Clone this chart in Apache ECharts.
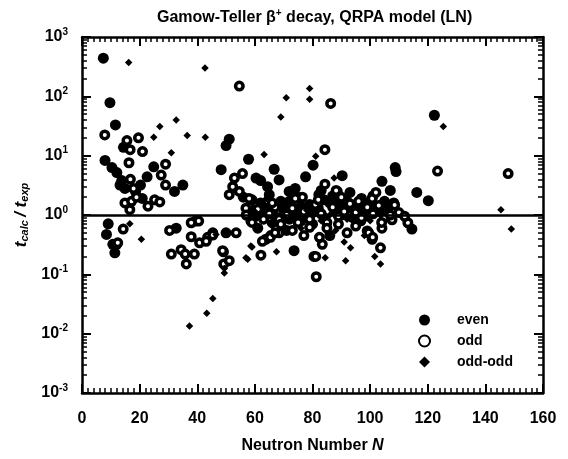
<!DOCTYPE html>
<html>
<head>
<meta charset="utf-8">
<script src="https://cdn.jsdelivr.net/npm/echarts@6/dist/echarts.min.js"></script>
<style>
html, body { margin: 0; padding: 0; background: #fff; }
#chart { width: 568px; height: 459px; }
</style>
</head>
<body>
<div id="chart"></div>
<script>
// each point is [neutron number N, t_calc / t_exp]
let evenPts = [
  [7.4, 440], [9.7, 78], [11.6, 33], [122.3, 48],
  [8, 8.3], [10.4, 6.3], [12.1, 5.2], [13.8, 3.8], [13.2, 3.2], [14.9, 2.8], [14.4, 13.8],
  [24.9, 6.5], [22.6, 4.4], [20.3, 3.2], [18.6, 2.5], [20.9, 1.9], [32.1, 2.5], [35, 3.2],
  [9.1, 0.71], [8.5, 0.47], [10.7, 0.32], [11.4, 0.23], [12, 0.32], [32.7, 0.6], [50, 0.5], [73.6, 0.25],
  [51.1, 19], [50, 14.8], [57.8, 8.7], [80.2, 6.9], [48.3, 5.8], [66.7, 5.9], [60.4, 4.2], [62, 3.8],
  [68.4, 3.9], [64.4, 3.0], [77.6, 4.4], [71.9, 2.5], [74, 2.8], [82.2, 2.2], [70.1, 1.5], [63, 1.2],
  [90.3, 4.6], [108.7, 6.3], [109, 5.4], [104.1, 3.7], [107, 2.6], [116.2, 2.4], [120.2, 1.74], [114.5, 0.58],
  [58, 1.15], [60, 0.95], [62, 1.05], [64, 1.3], [66, 1.1], [68, 0.9], [70, 1.2], [72, 0.85], [74, 1.05],
  [76, 1.4], [78, 0.95], [80, 1.1], [82, 1.3], [84, 0.9], [86, 1.6], [88, 1.2], [90, 1.45], [92, 1.7],
  [94, 1.3], [96, 1.5], [98, 1.2], [100, 1.6], [102, 1.3], [104, 1.1], [106, 1.25], [84, 1.8], [88, 1.9],
  [76, 0.8], [80, 0.7], [66, 0.75], [94, 0.9], [98, 0.95], [90, 1.0], [62, 1.6], [72, 1.7],
  [56, 2.0], [59, 1.8], [65, 2.2], [69, 1.7], [75, 2.0], [79, 1.5], [83, 2.6], [87, 2.1], [93, 2.4],
  [97, 1.9], [101, 2.1], [105, 1.7], [61, 0.6], [71, 0.55], [86, 0.45]
];
let oddPts = [
  [7.9, 22.4], [15.6, 18], [19.6, 20], [16.7, 12.6], [21, 11.7], [16.3, 7.6], [17.9, 2.8], [16.8, 4],
  [29, 7.2], [27.5, 4.7], [29, 3.2], [14.9, 1.6], [17.2, 1.7], [18.9, 2.0], [16.6, 1.23], [22.9, 1.41],
  [25.2, 1.8], [27, 1.66], [54.6, 149], [86.3, 76], [123.4, 5.5], [147.9, 5.0],
  [14.3, 0.58], [12.4, 0.34], [30.4, 0.55], [37.9, 0.43], [31, 0.22], [34.4, 0.26], [35.8, 0.22], [39, 0.22],
  [36.2, 0.15], [40.8, 0.34], [43.6, 0.42], [45.4, 0.5], [39.4, 0.79], [40.5, 0.79], [37.9, 0.74],
  [49.2, 0.15], [49.1, 0.24], [51.1, 0.17], [53.5, 0.5], [45.4, 0.46], [43.1, 0.36], [62.1, 0.21],
  [63.8, 0.39], [65.5, 0.45], [68.4, 0.5], [80.5, 0.2], [81.3, 0.091], [83.4, 0.32], [48.8, 0.25],
  [62.6, 0.36], [65.4, 0.42], [81.1, 0.2], [99, 0.54], [100.7, 0.39], [103.6, 0.28], [104.1, 0.6],
  [107.6, 0.83], [96.8, 0.8], [113.1, 0.74], [82.4, 0.42], [99.5, 0.5], [100.9, 0.42],
  [84.3, 12.6], [55.7, 5], [52.9, 4.2], [52.3, 3.0], [51.1, 2.2], [54.6, 2.5], [76.5, 2.0], [84.3, 3.3],
  [88.6, 2.5], [88.2, 2.6], [108.2, 1.6], [108.5, 1.48], [56.9, 1.3], [60.4, 1.4], [58.6, 0.8],
  [64.9, 0.9], [68.4, 0.85], [100.7, 1.9],
  [57, 1.0], [59, 0.75], [61, 1.25], [63, 0.85], [65, 1.05], [67, 1.35], [69, 0.7], [71, 1.0], [73, 1.3],
  [75, 0.75], [77, 1.15], [79, 0.85], [81, 1.5], [83, 1.05], [85, 0.75], [87, 1.35], [89, 0.95], [91, 1.15],
  [93, 1.55], [95, 1.1], [97, 0.9], [99, 1.35], [101, 1.05], [103, 1.45], [105, 0.9], [107, 1.0], [110, 1.1],
  [112, 0.95], [79, 0.62], [85, 0.6], [73, 0.55], [89, 0.7], [95, 0.65],
  [58, 1.9], [66, 1.6], [74, 1.9], [82, 1.8], [90, 2.0], [96, 1.7], [102, 2.4], [67, 0.5], [77, 0.45],
  [92, 0.5], [104, 0.75]
];
let oddOddPts = [
  [16.2, 372], [42.7, 300], [70.9, 95], [79, 135], [79, 89], [69, 45], [125.4, 31], [27, 31], [32.7, 40],
  [24.9, 20.5], [36.5, 21.8], [42.8, 20.5], [31, 11.2], [63.2, 10.5], [81.1, 9.8], [87.5, 4.2],
  [16.6, 0.71], [20.6, 0.39], [37.3, 0.0135], [43.3, 0.022], [45.4, 0.039], [49.4, 0.105], [49.4, 0.126],
  [59, 0.29], [57.5, 0.18], [67.5, 0.24], [91.5, 0.17], [93.2, 0.28], [91, 0.35], [46.5, 0.47], [56.9, 0.19],
  [58.6, 0.3], [101.6, 0.2], [103.6, 0.15], [145.4, 1.23], [149, 0.58], [84.4, 0.19],
  [60, 1.15], [70, 0.95], [78, 1.2], [86, 1.0], [92, 0.85], [96, 1.25], [100, 0.8], [66, 0.65], [76, 0.6], [88, 0.55],
  [64, 1.9], [83, 0.8], [98, 0.45]
];
let seriesNames = ['even', 'odd', 'odd-odd'];
let xTicks = [0, 20, 40, 60, 80, 100, 120, 140, 160];
let yDecades = [0.001, 0.01, 0.1, 1, 10, 100, 1000];

let font = 'Liberation Sans, Arial, sans-serif';
let supRich = { s: { fontSize: 10, fontWeight: 'bold', fontFamily: font, padding: [0, 0, 10, 0] } };

function axisBase(extra) {
  return Object.assign({
    axisLine: { show: true, onZero: false, lineStyle: { color: '#000', width: 2.5 } },
    axisTick: { show: true, inside: true, length: 9, lineStyle: { color: '#000', width: 2 } },
    minorTick: { show: true, splitNumber: 9, length: 5, lineStyle: { color: '#000', width: 1.5 } },
    splitLine: { show: false },
    minorSplitLine: { show: false }
  }, extra);
}

let xBase = {
  type: 'value', min: xTicks[0], max: xTicks[xTicks.length - 1], interval: 20,
  minorTick: { show: true, splitNumber: 10, length: 5, lineStyle: { color: '#000', width: 1.5 } }
};
let yBase = {
  type: 'log', logBase: 10, min: yDecades[0], max: yDecades[yDecades.length - 1]
};

let option = {
  animation: false,
  backgroundColor: '#fff',
  title: {
    text: 'Gamow-Teller β{s|+} decay, QRPA model (LN)',
    left: 152, top: 3,
    textStyle: { fontFamily: font, fontWeight: 'bold', fontSize: 16, color: '#000', rich: supRich }
  },
  grid: { left: 82, right: 25, top: 37, bottom: 62 },
  legend: {
    orient: 'vertical', left: 413, top: 308, itemGap: 7, itemWidth: 11, itemHeight: 11,
    data: seriesNames,
    textStyle: { fontFamily: font, fontWeight: 'bold', fontSize: 14, color: '#000', padding: [0, 0, 0, 22] }
  },
  xAxis: [
    axisBase(Object.assign({}, xBase, {
      position: 'bottom',
      axisLabel: { margin: 18, color: '#000', fontFamily: font, fontWeight: 'bold', fontSize: 16 },
      name: 'Neutron Number {i|N}', nameLocation: 'middle', nameGap: 45,
      nameTextStyle: { fontFamily: font, fontWeight: 'bold', fontSize: 16, color: '#000',
        rich: { i: { fontFamily: font, fontWeight: 'bold', fontStyle: 'italic', fontSize: 16 } } }
    })),
    axisBase(Object.assign({}, xBase, {
      position: 'top',
      axisLabel: { show: false }
    }))
  ],
  yAxis: [
    axisBase(Object.assign({}, yBase, {
      position: 'left',
      axisLabel: {
        margin: 14, color: '#000', fontFamily: font, fontWeight: 'bold', fontSize: 16,
        formatter: function (v) { return '10{s|' + Math.round(Math.log10(v)) + '}'; },
        rich: supRich
      },
      name: '{i|t}{sub|calc} {i|/ t}{sub|exp}', nameLocation: 'middle', nameGap: 34, nameRotate: 90,
      nameTextStyle: {
        color: '#000',
        rich: {
          i: { fontFamily: font, fontWeight: 'bold', fontStyle: 'italic', fontSize: 17 },
          sub: { fontFamily: font, fontWeight: 'bold', fontStyle: 'italic', fontSize: 11, padding: [8, 0, 0, 0] }
        }
      }
    })),
    axisBase(Object.assign({}, yBase, {
      position: 'right',
      axisLabel: { show: false }
    }))
  ],
  series: [
    {
      name: seriesNames[0], type: 'scatter', data: evenPts,
      symbol: 'circle', symbolSize: 11,
      itemStyle: { color: '#000', opacity: 1 },
      markLine: {
        silent: true, symbol: 'none', label: { show: false },
        lineStyle: { color: '#000', width: 2.5, type: 'solid' },
        data: [{ yAxis: 1 }]
      }
    },
    {
      // open circle: white fill with a thick black ring
      name: seriesNames[1], type: 'scatter', data: oddPts,
      symbol: 'circle', symbolSize: 7.5,
      itemStyle: { color: '#fff', borderColor: '#000', borderWidth: 3.5, opacity: 1 }
    },
    {
      name: seriesNames[2], type: 'scatter', data: oddOddPts,
      symbol: 'diamond', symbolSize: 7.5,
      itemStyle: { color: '#000', opacity: 1 }
    }
  ]
};

let myChart = echarts.init(document.getElementById('chart'));
myChart.setOption(option, true);
</script>
</body>
</html>
